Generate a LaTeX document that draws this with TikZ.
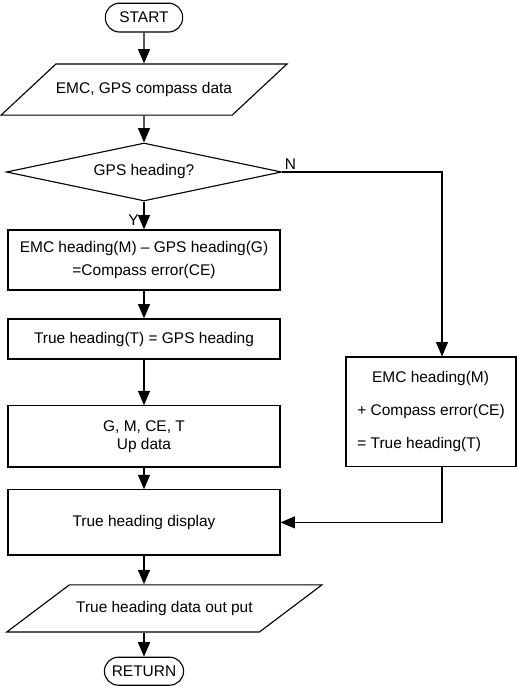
\documentclass[tikz,border=0pt]{standalone}
\usepackage{fontspec}
\setmainfont{Liberation Sans}
\usetikzlibrary{shapes.geometric,arrows.meta,positioning}

\tikzset{
  term/.style={draw, rounded corners=0.35cm, minimum width=1.93cm, minimum height=0.72cm, inner sep=0},
  io/.style={draw, trapezium, trapezium left angle=#1, trapezium right angle=180-#1,
    trapezium stretches body, text height=8pt, text depth=2.5pt, inner xsep=0},
  decision/.style={draw, diamond, aspect=4.7, minimum width=6.88cm, minimum height=1.45cm, inner sep=0},
  proc/.style={draw, minimum width=6.8cm, align=center, inner sep=0}
}

\begin{document}
\begin{tikzpicture}[node distance=2cm, line width=0.8pt,
  every node/.style={font=\fontsize{11}{13}\selectfont},
  >={Triangle[length=0.36cm, width=0.3cm]}]
\useasboundingbox (0,0) rectangle (12.925,-17.325);
\node (start) [term] at (3.6,-0.44) {START};
\node (data) [io=43, minimum width=6.85cm, inner ysep=0.455cm, below of=start, node distance=1.8cm] {EMC, GPS compass data};
\node (dec) [decision, below of=data, node distance=2.06cm] {GPS heading?};
\node (emc) [proc, minimum height=1.5cm, below of=dec, node distance=2.2cm] {EMC heading(M) – GPS heading(G)\\[0.1cm]=Compass error(CE)};
\node (true) [proc, minimum height=1.0cm, below of=emc, node distance=1.975cm] {True heading(T) = GPS heading};
\node (upd) [proc, minimum height=1.53cm, below of=true, node distance=2.435cm] {G, M, CE, T\\Up data};
\node (disp) [proc, minimum height=1.63cm, below of=upd, node distance=2.15cm] {True heading display};
\node (out) [io=37, minimum width=7.88cm, inner ysep=0.405cm, below of=disp, node distance=2.15cm, xshift=0.51cm] {True heading data out put};
\node (ret) [term, minimum width=1.98cm, minimum height=0.7cm, below of=out, node distance=1.57cm, xshift=-0.51cm] {RETURN};
\node (corr) [draw, minimum width=4.25cm, minimum height=2.73cm, align=left, inner sep=0] at (10.775,-10.29)
  {\hspace*{0.37cm}EMC heading(M)\\[0.37cm]+ Compass error(CE)\\[0.37cm]= True heading(T)};
\draw[->] (start) -- (data);
\draw[->] (data) -- (dec);
\draw[->] (dec) -- node[left, pos=0.65] {Y} (emc);
\draw[->] (dec.east) node[above right, inner sep=1.5pt] {N} -| ([xshift=0.275cm]corr.north);
\draw[->] (emc) -- (true);
\draw[->] (true) -- (upd);
\draw[->] (upd) -- (disp);
\draw[->] ([xshift=0.275cm]corr.south) |- (disp.east);
\draw[->] (disp) -- (disp |- out.north);
\draw[->] (ret |- out.south) -- (ret);
\end{tikzpicture}
\end{document}
